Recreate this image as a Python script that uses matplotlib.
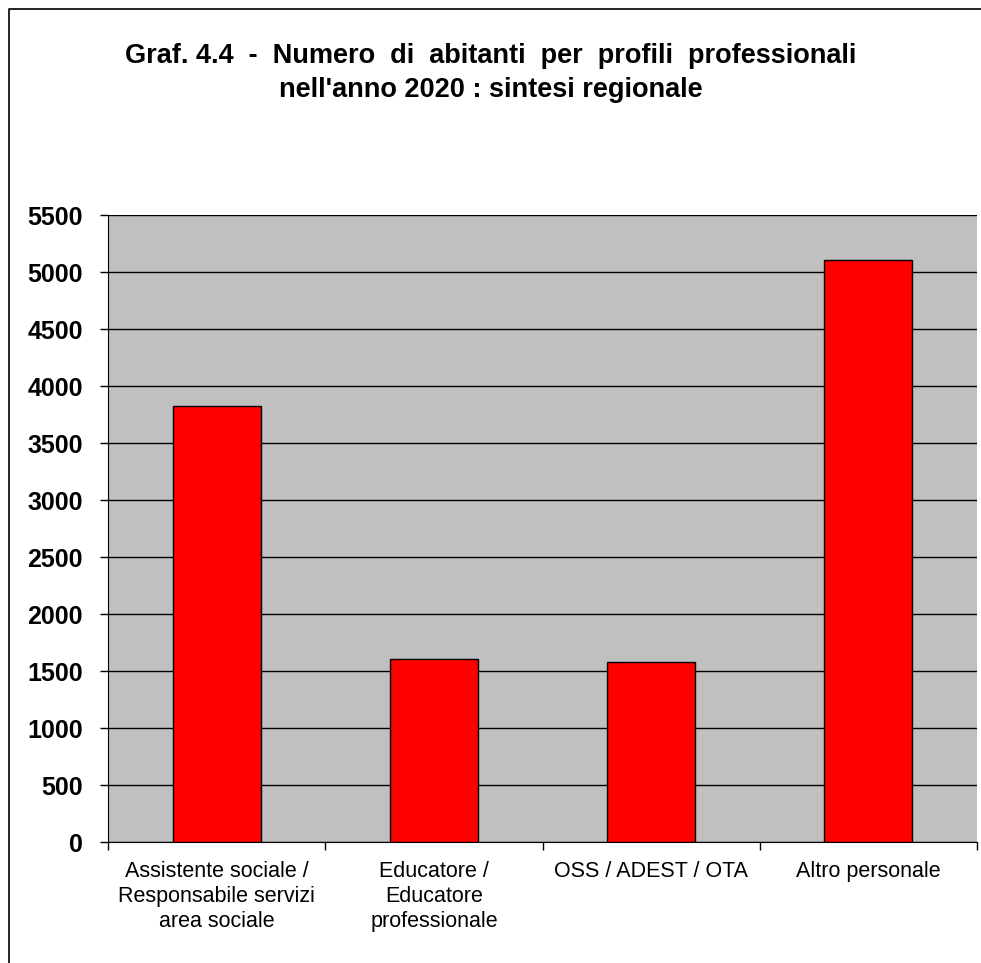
import numpy as np
import matplotlib.pyplot as plt
from matplotlib.lines import Line2D

categories = ['Assistente sociale /\nResponsabile servizi\narea sociale',
              'Educatore /\nEducatore\nprofessionale',
              'OSS / ADEST / OTA',
              'Altro personale']
values = [3827, 1605, 1576, 5108]
yticks = np.arange(0, 5501, 500)

plt.rcParams['font.family'] = ['Liberation Sans', 'DejaVu Sans']

W, H = 981, 963
fig = plt.figure(figsize=(W / 100, H / 100), dpi=100)

# chart frame (only left and top edges are inside the picture)
fig.lines.append(Line2D([8.5 / W, 8.5 / W, 1.0], [0.0, 1 - 9 / H, 1 - 9 / H],
                        transform=fig.transFigure, color='black', linewidth=1.2))

ax = fig.add_axes([108 / W, 121 / H, 869 / W, 627 / H])
ax.set_facecolor('#c0c0c0')

x = np.arange(len(categories))
ax.bar(x, values, width=0.405, color='#ff0000', edgecolor='black',
       linewidth=1, zorder=3)

ax.set_xlim(-0.5, len(categories) - 0.5)
ax.set_ylim(0, 5500)
ax.set_yticks(yticks)
ax.set_yticklabels([str(v) for v in yticks], fontsize=18, fontweight='bold')
ax.yaxis.grid(True, color='black', linewidth=1, zorder=1)
ax.set_axisbelow(True)

ax.set_xticks(x)
ax.set_xticklabels(categories, fontsize=15.5, linespacing=1.25)
ax.tick_params(axis='x', length=0, pad=14)
ax.set_xticks(np.arange(-0.5, len(categories)), minor=True)
ax.tick_params(axis='x', which='minor', length=6, width=1)
ax.tick_params(axis='y', length=6, width=1, pad=12)

for side in ['top', 'right']:
    ax.spines[side].set_visible(False)

fig.text(0.5, 1 - 63 / H, "Graf. 4.4  -  Numero  di  abitanti  per  profili  professionali",
         ha='center', va='baseline', fontsize=19.5, fontweight='bold')
fig.text(0.5, 1 - 97 / H, "nell'anno 2020 : sintesi regionale",
         ha='center', va='baseline', fontsize=19.5, fontweight='bold')

fig.savefig('out.png', dpi=100)
